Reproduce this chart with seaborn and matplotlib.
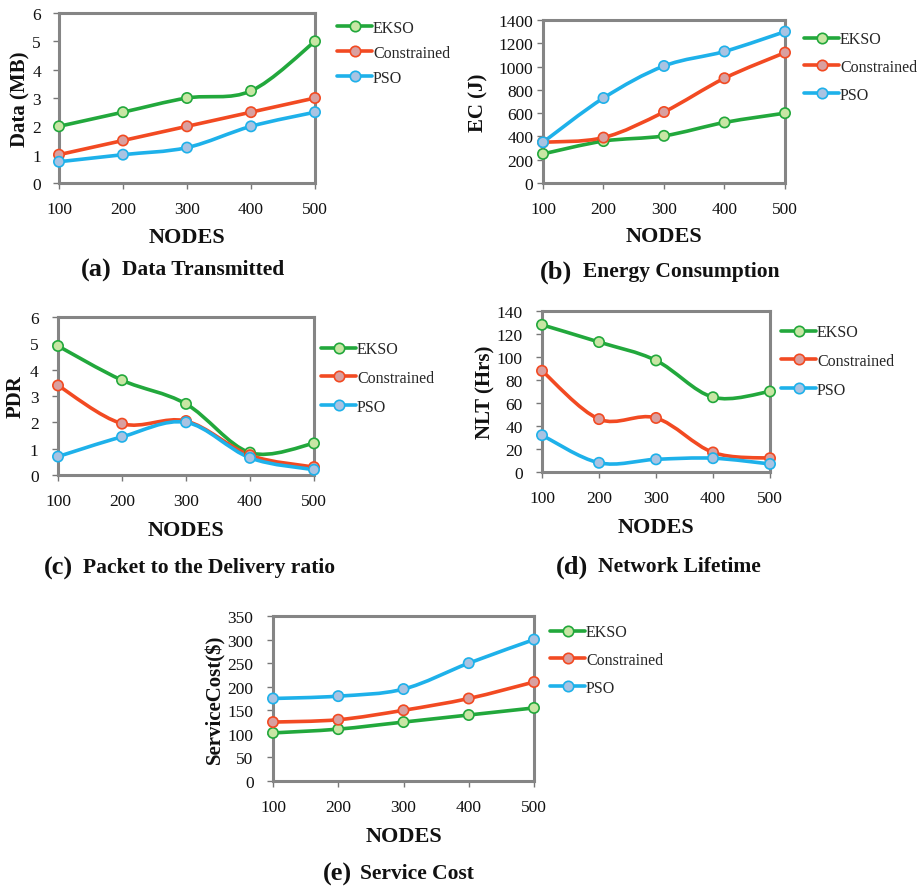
import numpy as np
import pandas as pd
import seaborn as sns
import matplotlib
matplotlib.use("Agg")
import matplotlib.pyplot as plt
from matplotlib.path import Path
from matplotlib.patches import PathPatch
from matplotlib.lines import Line2D

# ---------------- data ----------------
nodes = [100, 200, 300, 400, 500]
series_names = ["EKSO", "Constrained", "PSO"]

data_ekso = [2.0, 2.5, 3.0, 3.25, 5.0]
data_constrained = [1.0, 1.5, 2.0, 2.5, 3.0]
data_pso = [0.75, 1.0, 1.25, 2.0, 2.5]

ec_ekso = [250, 360, 405, 520, 600]
ec_constrained = [350, 390, 610, 900, 1120]
ec_pso = [350, 730, 1005, 1130, 1300]

pdr_ekso = [4.9, 3.6, 2.7, 0.85, 1.2]
pdr_constrained = [3.4, 1.95, 2.05, 0.75, 0.3]
pdr_pso = [0.7, 1.45, 2.0, 0.65, 0.2]

nlt_ekso = [128, 113, 97, 65, 70]
nlt_constrained = [88, 46, 47, 17, 12]
nlt_pso = [32, 8, 11, 12, 7]

sc_ekso = [102, 110, 125, 140, 155]
sc_constrained = [125, 130, 150, 175, 210]
sc_pso = [175, 180, 195, 250, 300]

y_labels = ["Data (MB)", "EC (J)", "PDR", "NLT (Hrs)", "ServiceCost($)"]
caption_tags = ["(a)", "(b)", "(c)", "(d)", "(e)"]
caption_texts = ["Data Transmitted", "Energy Consumption",
                 "Packet to the Delivery ratio", "Network Lifetime",
                 "Service Cost"]
y_ticks = [
    [0, 1, 2, 3, 4, 5, 6],
    [0, 200, 400, 600, 800, 1000, 1200, 1400],
    [0, 1, 2, 3, 4, 5, 6],
    [0, 20, 40, 60, 80, 100, 120, 140],
    [0, 50, 100, 150, 200, 250, 300, 350],
]

panels_values = [
    [data_ekso, data_constrained, data_pso],
    [ec_ekso, ec_constrained, ec_pso],
    [pdr_ekso, pdr_constrained, pdr_pso],
    [nlt_ekso, nlt_constrained, nlt_pso],
    [sc_ekso, sc_constrained, sc_pso],
]

# ---------------- style ----------------
sns.set_theme(style="white")
plt.rcParams["font.family"] = ["Liberation Serif", "DejaVu Serif"]

line_colors = ["#22a83c", "#f24a22", "#1eb1ea"]
face_colors = ["#c8e6a4", "#d9a0a0", "#a9c3e2"]

W, H = 920, 887
fig = plt.figure(figsize=(W / 100, H / 100), dpi=100)

# pixel geometry: (left, right, top, bottom) of each plot area
geom = [
    (59, 315, 14, 184),
    (543, 785, 21, 184),
    (58, 314, 318, 476),
    (542, 770, 312, 473),
    (273, 534, 617, 782),
]
# legend: handle start x, middle entry y, spacing px
leg_geom = [
    (337, 54, 25),
    (804, 68, 27.5),
    (321, 379, 28.5),
    (781, 362, 28.5),
    (550, 661, 27.5),
]
ylab_x = [20, 478, 16, 485, 215]
xlab_y = [238, 237, 531, 528, 837]
# caption: tag right edge x, text left x, y
cap_pos = [(112, 122, 270), (572, 583, 272), (73, 83, 568),
           (588, 598, 567), (352, 360, 874)]
ytick_pad = [9, 3, 10, 10, 10]


def smooth_path(xs, ys):
    pts = np.column_stack([xs, ys]).astype(float)
    n = len(pts)
    verts = [pts[0]]
    codes = [Path.MOVETO]
    for i in range(n - 1):
        p_prev = pts[i - 1] if i > 0 else pts[i]
        p0 = pts[i]
        p1 = pts[i + 1]
        p_next = pts[i + 2] if i + 2 < n else pts[i + 1]
        c1 = p0 + (p1 - p_prev) / 6.0
        c2 = p1 - (p_next - p0) / 6.0
        verts += [c1, c2, p1]
        codes += [Path.CURVE4] * 3
    return Path(verts, codes)


for k in range(5):
    l, r, t, b = geom[k]
    ax = fig.add_axes([l / W, 1 - b / H, (r - l) / W, (b - t) / H])
    vals = panels_values[k]
    df = pd.DataFrame({
        "NODES": nodes * 3,
        "value": vals[0] + vals[1] + vals[2],
        "series": sum([[s] * len(nodes) for s in series_names], []),
    })
    ymax = y_ticks[k][-1]
    for j, s in enumerate(series_names):
        sub = df[df["series"] == s]
        path = smooth_path(sub["NODES"].values, sub["value"].values)
        patch = PathPatch(path, facecolor="none", edgecolor=line_colors[j],
                          lw=2.6, transform=ax.transData, zorder=2,
                          capstyle="round", joinstyle="round")
        patch.set_clip_on(False)
        ax.add_patch(patch)
    sns.scatterplot(data=df, x="NODES", y="value", hue="series",
                    hue_order=series_names,
                    palette=dict(zip(series_names, face_colors)),
                    s=55, linewidth=1.2, ax=ax, zorder=3, legend=False,
                    clip_on=False)
    coll = ax.collections[-1]
    ec = [line_colors[series_names.index(s)] for s in df["series"]]
    coll.set_edgecolors(ec)

    ax.set_xlim(100, 500)
    ax.set_ylim(0, ymax)
    ax.set_xticks(nodes)
    ax.set_xticklabels([str(n) for n in nodes])
    ax.set_yticks(y_ticks[k])
    ax.set_yticklabels([str(v) for v in y_ticks[k]])
    for sp in ax.spines.values():
        sp.set_visible(True)
        sp.set_color("#858585")
        sp.set_linewidth(2.2)
    ax.tick_params(axis="both", which="both", direction="out", length=4,
                   width=1, color="#777777", labelsize=12.5, labelcolor="#111111")
    ax.tick_params(axis="x", pad=9, bottom=True, top=False)
    ax.tick_params(axis="y", pad=ytick_pad[k], left=True, right=False)
    ax.grid(False)
    ax.set_facecolor("white")

    ax.set_xlabel("NODES", fontsize=16, fontweight="bold", color="#111111")
    ax.xaxis.set_label_coords(0.5, (b - xlab_y[k]) / (b - t))
    ax.xaxis.label.set_verticalalignment("center")
    ax.set_ylabel(y_labels[k], fontsize=15, fontweight="bold", color="#111111")
    ax.yaxis.set_label_coords((ylab_x[k] - l) / (r - l), 0.5)
    ax.yaxis.label.set_verticalalignment("center")

    hx, hy, sp_px = leg_geom[k]
    handles = [Line2D([0], [0], color=line_colors[j], lw=2.6, marker="o",
                      markersize=7.5, markerfacecolor=face_colors[j],
                      markeredgecolor=line_colors[j], markeredgewidth=1.2)
               for j in range(3)]
    fs = 11.5
    fs_px = fs * 100 / 72
    ax.legend(handles, series_names, loc="center left",
              bbox_to_anchor=(hx / W, 1 - hy / H),
              bbox_transform=fig.transFigure, frameon=False,
              fontsize=fs, handlelength=2.2, handletextpad=0.05,
              borderpad=0, borderaxespad=0,
              labelspacing=(sp_px - fs_px) / fs_px)

    tx_r, tx_l, cy = cap_pos[k]
    fig.text(tx_r / W, 1 - cy / H, caption_tags[k], ha="right", va="center",
             fontsize=19, fontweight="bold", color="#111111")
    fig.text(tx_l / W, 1 - cy / H, caption_texts[k], ha="left", va="center",
             fontsize=15.5, fontweight="bold", color="#111111")

fig.savefig("out.png", dpi=100)
